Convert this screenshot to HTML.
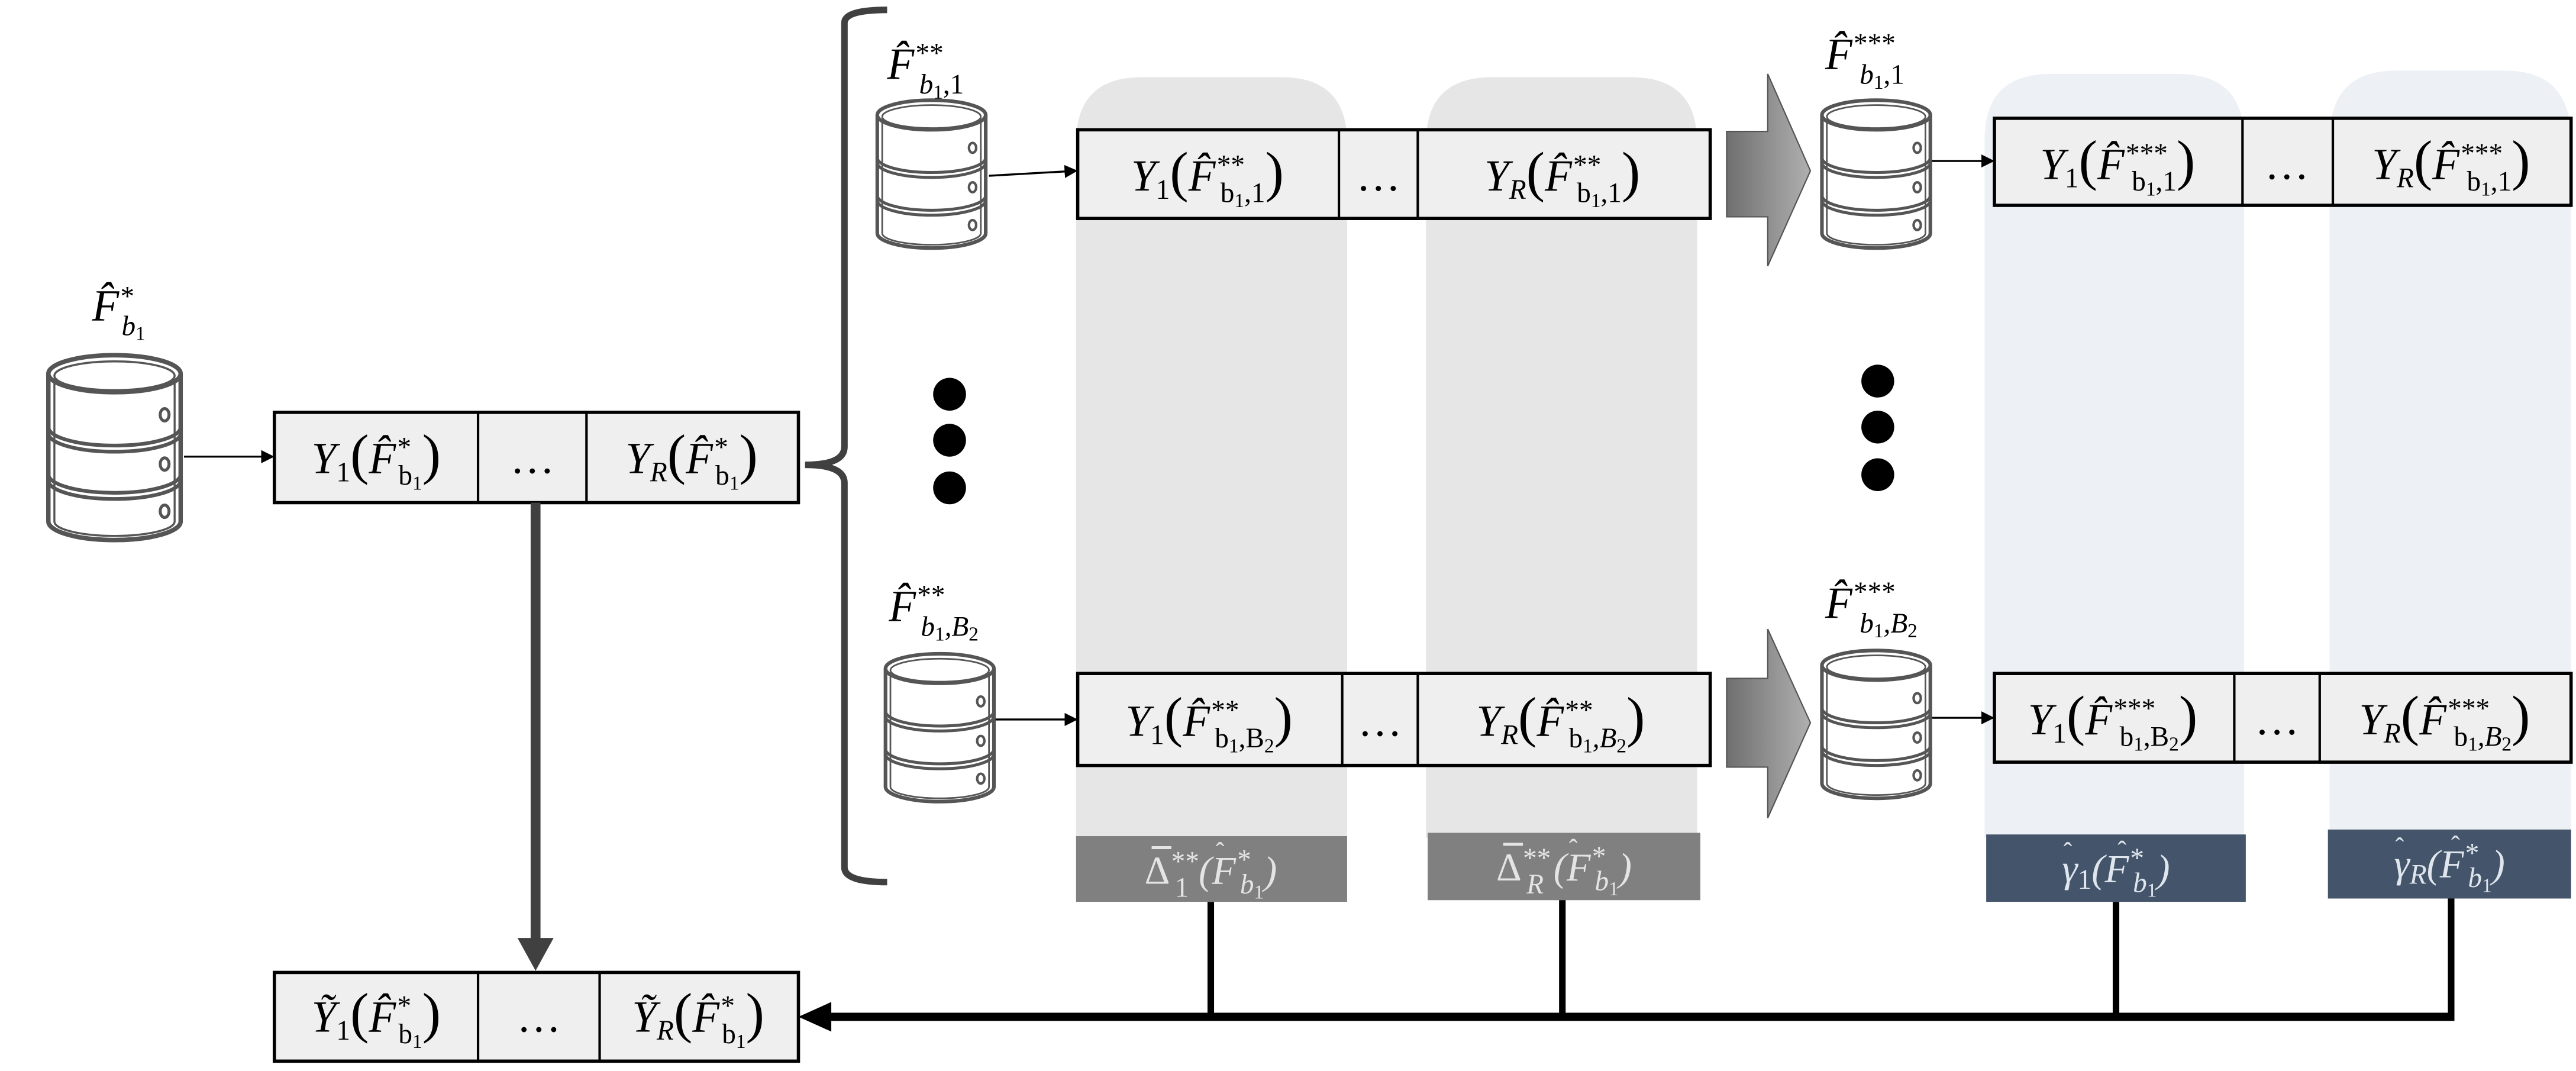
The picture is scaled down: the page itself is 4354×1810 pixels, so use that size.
<!DOCTYPE html>
<html><head><meta charset="utf-8"><style>
html,body{margin:0;padding:0;background:#fff;}
svg{display:block}
.m{font-family:"Liberation Serif","DejaVu Serif",serif;font-style:italic;font-size:27px;fill:#000}
.r{font-style:normal}
.s{font-size:17px}
.ss{font-size:12px}
.p{font-size:34px;font-style:normal}
.w{fill:#e4e4e4}
.bw{fill:#dfe6ee}
.hat{font-family:"Liberation Serif",serif;font-size:16px}
</style></head><body>
<svg width="4354" height="1810" viewBox="0 0 1568 652" preserveAspectRatio="none" xmlns="http://www.w3.org/2000/svg">
<defs>
<g id="cyl">
<path d="M2,10 V82 A33,9 0 0 0 68,82 V10" fill="#fff" stroke="#555" stroke-width="2.2"/>
<path d="M5,10 V82 A30,7 0 0 0 65,82 V10" fill="none" stroke="#555" stroke-width="1"/>
<ellipse cx="35" cy="10" rx="33" ry="9" fill="#fff" stroke="#555" stroke-width="2.2"/>
<ellipse cx="35" cy="11" rx="30" ry="7" fill="none" stroke="#555" stroke-width="1"/>
<path d="M2,36 A33,9 0 0 0 68,36 M2,39 A33,9 0 0 0 68,39 M2,59 A33,9 0 0 0 68,59 M2,62 A33,9 0 0 0 68,62" fill="none" stroke="#555" stroke-width="1.8"/>
<ellipse cx="60" cy="30" rx="2.2" ry="3" fill="none" stroke="#555" stroke-width="1.5"/>
<ellipse cx="60" cy="54" rx="2.2" ry="3" fill="none" stroke="#555" stroke-width="1.5"/>
<ellipse cx="60" cy="77" rx="2.2" ry="3" fill="none" stroke="#555" stroke-width="1.5"/>
</g>
<linearGradient id="ag" x1="0" x2="1" y1="0" y2="0"><stop offset="0" stop-color="#6f6f6f"/><stop offset="1" stop-color="#b0b0b0"/></linearGradient>
<marker id="ah" markerWidth="8" markerHeight="8" refX="7" refY="4" orient="auto" markerUnits="userSpaceOnUse"><path d="M0,0 L8,4 L0,8z" fill="#000"/></marker>
</defs>

<path d="M655,510 V87 Q655,47 695,47 H780 Q820,47 820,87 V510z" fill="#e6e6e6"/>
<path d="M868,510 V87 Q868,47 908,47 H993 Q1033,47 1033,87 V510z" fill="#e6e6e6"/>
<path d="M1208,510 V85 Q1208,45 1248,45 H1326 Q1366,45 1366,85 V510z" fill="#edf1f5"/>
<path d="M1418,510 V85 Q1418,43 1458,43 H1525 Q1565,43 1565,85 V510z" fill="#edf1f5"/>

<rect x="655" y="509" width="165" height="40" fill="#808080"/>
<rect x="869" y="507" width="166" height="41" fill="#808080"/>
<rect x="1209" y="508" width="158" height="41" fill="#44546a"/>
<rect x="1417" y="505" width="148" height="42" fill="#44546a"/>
<text class="m w" x="737" y="538" text-anchor="middle" style="font-size:24px"><tspan class="r">Δ</tspan><tspan class="s" dy="-8">**</tspan><tspan class="s r" dx="-14" dy="16">1</tspan><tspan dy="-8"> (F</tspan><tspan class="s" dy="-9">*</tspan><tspan class="s" dx="-6" dy="15">b</tspan><tspan class="ss r" dy="3">1</tspan><tspan dy="-9">)</tspan></text>
<line x1="701" y1="516" x2="713" y2="516" stroke="#e4e4e4" stroke-width="1.8"/>
<text class="hat w" x="740" y="524">ˆ</text>
<text class="m w" x="952" y="536" text-anchor="middle" style="font-size:24px"><tspan class="r">Δ</tspan><tspan class="s" dy="-8">**</tspan><tspan class="s" dx="-14" dy="16">R</tspan><tspan dy="-8"> (F</tspan><tspan class="s" dy="-9">*</tspan><tspan class="s" dx="-6" dy="15">b</tspan><tspan class="ss r" dy="3">1</tspan><tspan dy="-9">)</tspan></text>
<line x1="915" y1="514" x2="927" y2="514" stroke="#e4e4e4" stroke-width="1.8"/>
<text class="hat w" x="955" y="522">ˆ</text>
<text class="m bw" x="1288" y="537" text-anchor="middle" style="font-size:24px">γ<tspan class="s r" dy="4">1</tspan><tspan dy="-4">(F</tspan><tspan class="s" dy="-9">*</tspan><tspan class="s" dx="-6" dy="15">b</tspan><tspan class="ss r" dy="3">1</tspan><tspan dy="-9">)</tspan></text>
<text class="hat bw" x="1256" y="524">ˆ</text><text class="hat bw" x="1289" y="523">ˆ</text>
<text class="m bw" x="1491" y="534" text-anchor="middle" style="font-size:24px">γ<tspan class="s" dy="4">R</tspan><tspan dy="-4">(F</tspan><tspan class="s" dy="-9">*</tspan><tspan class="s" dx="-6" dy="15">b</tspan><tspan class="ss r" dy="3">1</tspan><tspan dy="-9">)</tspan></text>
<text class="hat bw" x="1458" y="521">ˆ</text><text class="hat bw" x="1492" y="520">ˆ</text>

<g stroke="#000" stroke-width="4" fill="none">
<line x1="737" y1="549" x2="737" y2="619"/>
<line x1="951" y1="548" x2="951" y2="619"/>
<line x1="1288" y1="549" x2="1288" y2="619"/>
<line x1="1492" y1="547" x2="1492" y2="619"/>
</g>
<line x1="1494" y1="619" x2="505" y2="619" stroke="#000" stroke-width="5"/>
<path d="M486,619 L506,610 L506,628z" fill="#000"/>

<use href="#cyl" transform="translate(27,215) scale(1.22,1.25)"/>
<text class="m" x="56" y="195">F̂<tspan class="s" dy="-9">*</tspan><tspan class="s" dx="-7" dy="18">b</tspan><tspan class="ss r" dy="3">1</tspan></text>
<line x1="112" y1="278" x2="166" y2="278" stroke="#000" stroke-width="1.2" marker-end="url(#ah)"/>

<g stroke="#000" fill="#efefef">
<rect x="167" y="251" width="319" height="55" stroke-width="2"/>
<line x1="291" y1="251" x2="291" y2="306" stroke-width="1.5"/>
<line x1="357" y1="251" x2="357" y2="306" stroke-width="1.5"/>
</g>
<text class="m" x="229" y="288" text-anchor="middle">Y<tspan class="s r" dy="5">1</tspan><tspan class="p" dy="-5">(</tspan>F̂<tspan class="s" dy="-10">*</tspan><tspan class="s r" dx="-7" dy="17">b</tspan><tspan class="ss r" dy="3">1</tspan><tspan class="p" dy="-10">)</tspan></text>
<text class="m r" x="324" y="288" text-anchor="middle">…</text>
<text class="m" x="421" y="288" text-anchor="middle">Y<tspan class="s" dy="5">R</tspan><tspan class="p" dy="-5">(</tspan>F̂<tspan class="s" dy="-10">*</tspan><tspan class="s r" dx="-7" dy="17">b</tspan><tspan class="ss r" dy="3">1</tspan><tspan class="p" dy="-10">)</tspan></text>

<line x1="326" y1="306" x2="326" y2="574" stroke="#404040" stroke-width="6"/>
<path d="M315,571 L337,571 L326,591z" fill="#404040"/>

<g stroke="#000" fill="#efefef">
<rect x="167" y="592" width="319" height="54" stroke-width="2"/>
<line x1="291" y1="592" x2="291" y2="646" stroke-width="1.5"/>
<line x1="365" y1="592" x2="365" y2="646" stroke-width="1.5"/>
</g>
<text class="m" x="229" y="628" text-anchor="middle">Ỹ<tspan class="s r" dy="5">1</tspan><tspan class="p" dy="-5">(</tspan>F̂<tspan class="s" dy="-10">*</tspan><tspan class="s r" dx="-7" dy="17">b</tspan><tspan class="ss r" dy="3">1</tspan><tspan class="p" dy="-10">)</tspan></text>
<text class="m r" x="328" y="628" text-anchor="middle">…</text>
<text class="m" x="425" y="628" text-anchor="middle">Ỹ<tspan class="s" dy="5">R</tspan><tspan class="p" dy="-5">(</tspan>F̂<tspan class="s" dy="-10">*</tspan><tspan class="s r" dx="-7" dy="17">b</tspan><tspan class="ss r" dy="3">1</tspan><tspan class="p" dy="-10">)</tspan></text>

<path d="M540,6 Q514,6 514,14 V272 Q514,283 490,283 Q514,283 514,294 V528 Q514,537 540,537" fill="none" stroke="#404040" stroke-width="4"/>

<use href="#cyl" transform="translate(532,60)"/>
<text class="m" x="540" y="48">F̂<tspan class="s" dy="-10">**</tspan><tspan class="s" dx="-14" dy="19">b</tspan><tspan class="ss r" dy="3">1</tspan><tspan class="s r" dy="-3">,1</tspan></text>
<line x1="602" y1="107" x2="655" y2="104" stroke="#000" stroke-width="1.2" marker-end="url(#ah)"/>
<g stroke="#000" fill="#efefef">
<rect x="656" y="79" width="385" height="54" stroke-width="2"/>
<line x1="815" y1="79" x2="815" y2="133" stroke-width="1.5"/>
<line x1="863" y1="79" x2="863" y2="133" stroke-width="1.5"/>
</g>
<text class="m" x="735" y="116" text-anchor="middle">Y<tspan class="s r" dy="5">1</tspan><tspan class="p" dy="-5">(</tspan>F̂<tspan class="s" dy="-10">**</tspan><tspan class="s r" dx="-14" dy="17">b</tspan><tspan class="ss r" dy="3">1</tspan><tspan class="s r" dy="-3">,1</tspan><tspan class="p" dy="-7">)</tspan></text>
<text class="m r" x="839" y="116" text-anchor="middle">…</text>
<text class="m" x="951" y="116" text-anchor="middle">Y<tspan class="s" dy="5">R</tspan><tspan class="p" dy="-5">(</tspan>F̂<tspan class="s" dy="-10">**</tspan><tspan class="s r" dx="-14" dy="17">b</tspan><tspan class="ss r" dy="3">1</tspan><tspan class="s r" dy="-3">,1</tspan><tspan class="p" dy="-7">)</tspan></text>

<circle cx="578" cy="240" r="10"/><circle cx="578" cy="268" r="10"/><circle cx="578" cy="297" r="10"/>
<circle cx="1143" cy="232" r="10"/><circle cx="1143" cy="260" r="10"/><circle cx="1143" cy="289" r="10"/>

<use href="#cyl" transform="translate(537,397)"/>
<text class="m" x="541" y="378">F̂<tspan class="s" dy="-10">**</tspan><tspan class="s" dx="-14" dy="19">b</tspan><tspan class="ss r" dy="3">1</tspan><tspan class="s" dy="-3">,B</tspan><tspan class="ss r" dy="3">2</tspan></text>
<line x1="606" y1="438" x2="655" y2="438" stroke="#000" stroke-width="1.2" marker-end="url(#ah)"/>
<g stroke="#000" fill="#efefef">
<rect x="656" y="410" width="385" height="56" stroke-width="2"/>
<line x1="817" y1="410" x2="817" y2="466" stroke-width="1.5"/>
<line x1="863" y1="410" x2="863" y2="466" stroke-width="1.5"/>
</g>
<text class="m" x="736" y="448" text-anchor="middle">Y<tspan class="s r" dy="5">1</tspan><tspan class="p" dy="-5">(</tspan>F̂<tspan class="s" dy="-10">**</tspan><tspan class="s r" dx="-14" dy="17">b</tspan><tspan class="ss r" dy="3">1</tspan><tspan class="s r" dy="-3">,B</tspan><tspan class="ss r" dy="3">2</tspan><tspan class="p" dy="-10">)</tspan></text>
<text class="m r" x="840" y="448" text-anchor="middle">…</text>
<text class="m" x="950" y="448" text-anchor="middle">Y<tspan class="s" dy="5">R</tspan><tspan class="p" dy="-5">(</tspan>F̂<tspan class="s" dy="-10">**</tspan><tspan class="s r" dx="-14" dy="17">b</tspan><tspan class="ss r" dy="3">1</tspan><tspan class="s" dy="-3">,B</tspan><tspan class="ss r" dy="3">2</tspan><tspan class="p" dy="-10">)</tspan></text>

<path d="M1051,80 H1076 V45 L1102,104 L1076,162 V132 H1051z" fill="url(#ag)" stroke="#555" stroke-width="0.8"/>
<path d="M1051,413 H1076 V383 L1102,440 L1076,498 V467 H1051z" fill="url(#ag)" stroke="#555" stroke-width="0.8"/>

<use href="#cyl" transform="translate(1107,60)"/>
<text class="m" x="1111" y="42">F̂<tspan class="s" dy="-10">***</tspan><tspan class="s" dx="-21" dy="19">b</tspan><tspan class="ss r" dy="3">1</tspan><tspan class="s r" dy="-3">,1</tspan></text>
<line x1="1176" y1="98" x2="1213" y2="98" stroke="#000" stroke-width="1.2" marker-end="url(#ah)"/>
<g stroke="#000" fill="#efefef">
<rect x="1214" y="72" width="351" height="53" stroke-width="2"/>
<line x1="1365" y1="72" x2="1365" y2="125" stroke-width="1.5"/>
<line x1="1420" y1="72" x2="1420" y2="125" stroke-width="1.5"/>
</g>
<text class="m" x="1289" y="109" text-anchor="middle">Y<tspan class="s r" dy="5">1</tspan><tspan class="p" dy="-5">(</tspan>F̂<tspan class="s" dy="-10">***</tspan><tspan class="s r" dx="-21" dy="17">b</tspan><tspan class="ss r" dy="3">1</tspan><tspan class="s r" dy="-3">,1</tspan><tspan class="p" dy="-7">)</tspan></text>
<text class="m r" x="1392" y="109" text-anchor="middle">…</text>
<text class="m" x="1492" y="109" text-anchor="middle">Y<tspan class="s" dy="5">R</tspan><tspan class="p" dy="-5">(</tspan>F̂<tspan class="s" dy="-10">***</tspan><tspan class="s r" dx="-21" dy="17">b</tspan><tspan class="ss r" dy="3">1</tspan><tspan class="s r" dy="-3">,1</tspan><tspan class="p" dy="-7">)</tspan></text>

<use href="#cyl" transform="translate(1107,395)"/>
<text class="m" x="1111" y="376">F̂<tspan class="s" dy="-10">***</tspan><tspan class="s" dx="-21" dy="19">b</tspan><tspan class="ss r" dy="3">1</tspan><tspan class="s" dy="-3">,B</tspan><tspan class="ss r" dy="3">2</tspan></text>
<line x1="1176" y1="437" x2="1213" y2="437" stroke="#000" stroke-width="1.2" marker-end="url(#ah)"/>
<g stroke="#000" fill="#efefef">
<rect x="1214" y="410" width="351" height="54" stroke-width="2"/>
<line x1="1360" y1="410" x2="1360" y2="464" stroke-width="1.5"/>
<line x1="1412" y1="410" x2="1412" y2="464" stroke-width="1.5"/>
</g>
<text class="m" x="1286" y="447" text-anchor="middle">Y<tspan class="s r" dy="5">1</tspan><tspan class="p" dy="-5">(</tspan>F̂<tspan class="s" dy="-10">***</tspan><tspan class="s r" dx="-21" dy="17">b</tspan><tspan class="ss r" dy="3">1</tspan><tspan class="s r" dy="-3">,B</tspan><tspan class="ss r" dy="3">2</tspan><tspan class="p" dy="-10">)</tspan></text>
<text class="m r" x="1386" y="447" text-anchor="middle">…</text>
<text class="m" x="1488" y="447" text-anchor="middle">Y<tspan class="s" dy="5">R</tspan><tspan class="p" dy="-5">(</tspan>F̂<tspan class="s" dy="-10">***</tspan><tspan class="s r" dx="-21" dy="17">b</tspan><tspan class="ss r" dy="3">1</tspan><tspan class="s" dy="-3">,B</tspan><tspan class="ss r" dy="3">2</tspan><tspan class="p" dy="-10">)</tspan></text>
</svg>
</body></html>
